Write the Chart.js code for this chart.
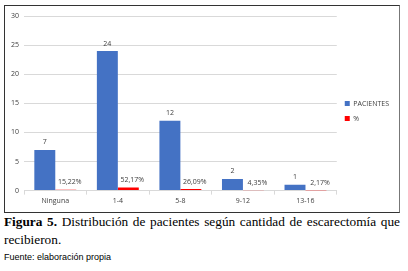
<html lang="es">
<head>
<meta charset="utf-8">
<script src="https://cdn.jsdelivr.net/npm/chart.js@4.4.0/dist/chart.umd.min.js"></script>
<style>
  body { margin:0; background:#fff; width:408px; height:271px; position:relative; overflow:hidden; }
  #frame { position:absolute; left:4px; top:5px; width:396px; height:208px; border:1.5px solid #333; border-right-color:#777; box-sizing:border-box; }
  #wrap { position:absolute; left:1px; top:1px; width:393px; height:202px; }
  #cap { position:absolute; left:4px; top:213px; width:396px; font-family:"Liberation Serif", serif; font-size:13.3px; line-height:18px; text-align:justify; text-align-last:left; color:#000; }
  #src { position:absolute; left:4px; top:252px; font-family:"Liberation Sans", Arial, sans-serif; font-size:9px; color:#000; }
</style>
</head>
<body>
<div id="frame"><div id="wrap"><canvas id="myChart"></canvas></div></div>
<div id="cap"><b>Figura 5.</b> Distribución de pacientes según cantidad de escarectomía que recibieron.</div>
<div id="src">Fuente: elaboración propia</div>
<script>
  const categories = ['Ninguna', '1-4', '5-8', '9-12', '13-16'];
  const pacientes = [7, 24, 12, 2, 1];
  const porcentaje = [0.1522, 0.5217, 0.2609, 0.0435, 0.0217];
  const yTicks = [0, 5, 10, 15, 20, 25, 30];

  const fontFam = '"Open Sans", "Liberation Sans", sans-serif';

  // value labels above each bar
  const barLabels = {
    id: 'barLabels',
    afterDatasetsDraw(chart) {
      const ctx = chart.ctx;
      ctx.save();
      ctx.font = '7px ' + fontFam;
      ctx.fillStyle = '#404040';
      ctx.textAlign = 'center';
      ctx.textBaseline = 'bottom';
      chart.data.datasets.forEach((ds, i) => {
        chart.getDatasetMeta(i).data.forEach((bar, j) => {
          let txt = i == 0 ? String(ds.data[j])
            : (ds.data[j] * 100).toFixed(2).replace('.', ',') + '%';
          let x = i == 0 ? bar.x : bar.x + 4;
          ctx.fillText(txt, x, bar.y - 4);
        });
      });
      ctx.restore();
    }
  };

  const ch = document.getElementById('myChart').getContext('2d');
  var chartVar = new Chart(ch, {
    type: 'bar',
    data: {
      labels: categories,
      datasets: [
        { label: 'PACIENTES', data: pacientes, backgroundColor: '#4472c4' },
        { label: '%', data: porcentaje, backgroundColor: '#ff0000' }
      ]
    },
    options: {
      responsive: true,
      maintainAspectRatio: false,
      animation: false,
      categoryPercentage: 0.67,
      barPercentage: 1,
      layout: { padding: { left: 0, right: 0, top: 8, bottom: 2 } },
      plugins: {
        tooltip: { enabled: false },
        legend: {
          position: 'right',
          align: 'center',
          labels: {
            boxWidth: 5, boxHeight: 5, padding: 8,
            color: '#404040',
            font: { family: fontFam, size: 7 }
          }
        }
      },
      scales: {
        y: {
          min: 0, max: 30,
          afterBuildTicks: (axis) => { axis.ticks = yTicks.map(v => ({ value: v })); },
          grid: { color: '#d9d9d9', drawTicks: false },
          border: { display: false },
          ticks: { color: '#404040', padding: 5, font: { family: fontFam, size: 7 } }
        },
        x: {
          grid: { offset: true, drawOnChartArea: false, color: '#d9d9d9', tickLength: 4 },
          border: { color: '#d9d9d9' },
          ticks: { color: '#404040', padding: 2, font: { family: fontFam, size: 7 } }
        }
      }
    },
    plugins: [barLabels]
  });
</script>
</body>
</html>
